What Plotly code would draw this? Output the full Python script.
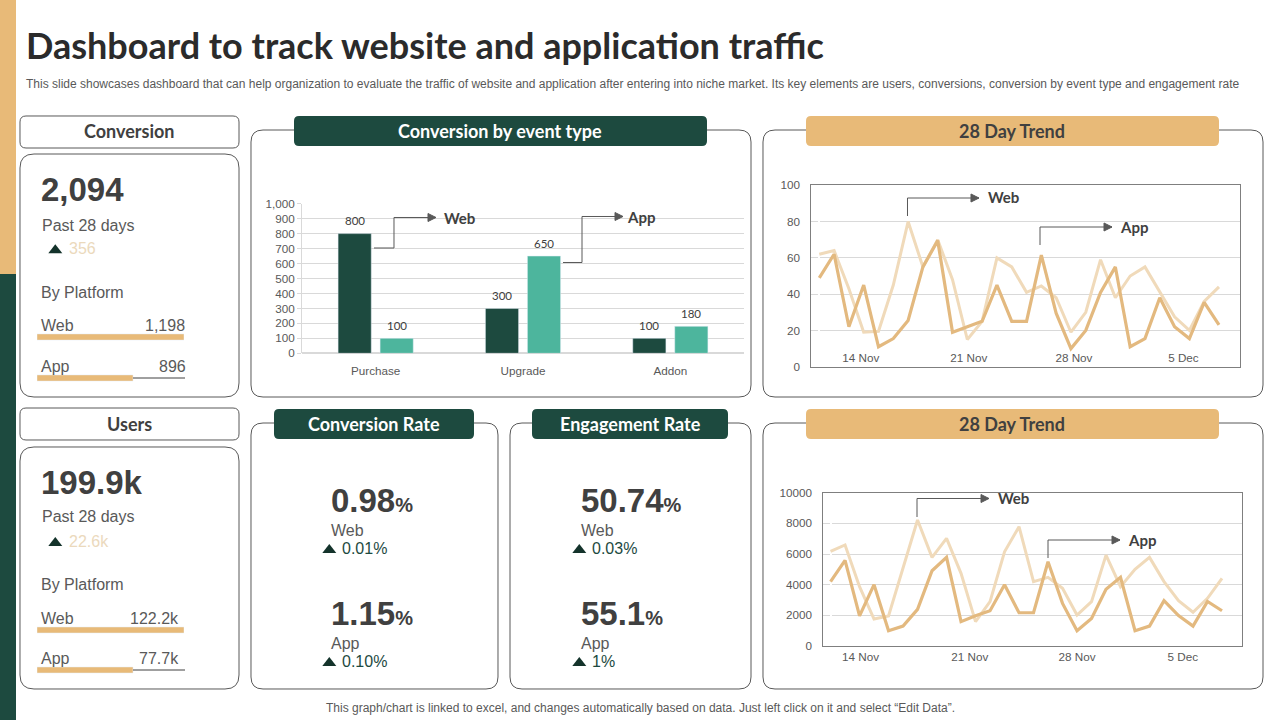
import plotly.graph_objects as go

# --- data ---
event_types = ["Purchase", "Upgrade", "Addon"]
event_web = [800, 300, 100]
event_app = [100, 650, 180]

day_no = list(range(28))
trend_labels = ["14 Nov", "21 Nov", "28 Nov", "5 Dec"]
trend1_label_pos = [2.8, 10.1, 17.2, 24.6]
trend2_label_pos = [2.07, 9.6, 17.0, 24.3]

conv_web = [62, 64, 43, 19, 19.5, 45, 80, 55, 70, 48, 15, 25, 60, 55,
            41, 44.5, 38, 19, 30, 59, 38, 50, 55, 41, 27.5, 20, 36, 44]
conv_app = [49, 62, 22, 45, 11, 15.5, 25.5, 55, 69.5, 19, 22, 25, 45, 25,
            25, 61.5, 29.5, 10, 20, 41, 55, 11, 15.5, 38, 22, 15.5, 35.5, 23]

users_web = [6170, 6590, 3870, 1760, 1960, 5170, 8220, 5780, 7020, 4740, 1590, 2890, 6150, 7780,
             4200, 4480, 3760, 2020, 2890, 5930, 3870, 5000, 5780, 4200, 2960, 2200, 3110, 4410]
users_app = [4200, 5590, 1960, 4000, 1000, 1300, 2390, 4910, 5780, 1590, 1980, 2300, 4000, 2170,
             2170, 5500, 2780, 1000, 1800, 3700, 4480, 1000, 1300, 2960, 1980, 1300, 2910, 2300]

platforms = ["Web", "App"]
conv_share = [100, 65.3]
users_share = [100, 65.3]

W, H = 1280, 720
DARK = "#1D4A3F"
TEAL = "#4DB59D"
TAN = "#E8BA78"
PALE = "#F0DABA"
LINE_TAN = "#E3B97F"
GREY = "#595959"
TEXT = "#404040"
BORDER = "#595959"
GRID = "#D9D9D9"
SANS = "Liberation Sans"
HEAD = "Lato"


def xdom(a, b):
    return [a / W, b / W]


def ydom(top, bottom):
    return [1 - bottom / H, 1 - top / H]


def pt(x, y):
    # pixel position on the slide -> paper coordinates
    return f"{x / W:.5f},{1 - y / H:.5f}"


def rrect(x0, y0, x1, y1, r, fill="white", line=BORDER):
    p = (f"M{pt(x0 + r, y0)} L{pt(x1 - r, y0)} Q{pt(x1, y0)} {pt(x1, y0 + r)} L{pt(x1, y1 - r)} "
         f"Q{pt(x1, y1)} {pt(x1 - r, y1)} L{pt(x0 + r, y1)} Q{pt(x0, y1)} {pt(x0, y1 - r)} "
         f"L{pt(x0, y0 + r)} Q{pt(x0, y0)} {pt(x0 + r, y0)} Z")
    return dict(type="path", path=p, xref="paper", yref="paper", fillcolor=fill,
                line=dict(color=line, width=1 if line != fill else 0), layer="below")


def box(x0, y0, x1, y1, fill):
    return dict(type="rect", xref="paper", yref="paper", x0=x0 / W, x1=x1 / W, y0=1 - y1 / H, y1=1 - y0 / H,
                fillcolor=fill, line_width=0, layer="below")


def rule(x0, x1, y):
    return dict(type="line", xref="paper", yref="paper", x0=x0 / W, x1=x1 / W, y0=1 - y / H, y1=1 - y / H,
                line=dict(color=TEXT, width=1))


def tri(x, y):
    # little up marker, x/y is the left bottom corner
    p = f"M{pt(x, y)} L{pt(x + 7, y - 9)} L{pt(x + 14, y)} Z"
    return dict(type="path", path=p, xref="paper", yref="paper", fillcolor="#14332B", line_width=0)


def elbow(pts):
    # arrow line with a small head on the last segment
    d = "M" + " L".join(pt(x, y) for x, y in pts)
    xe, ye = pts[-1]
    head = f"M{pt(xe - 8, ye - 4)} L{pt(xe, ye)} L{pt(xe - 8, ye + 4)} Z"
    return [dict(type="path", path=d, xref="paper", yref="paper", line=dict(color=GREY, width=1)),
            dict(type="path", path=head, xref="paper", yref="paper", fillcolor=GREY, line=dict(color=GREY, width=1))]


def txt(x, y, text, size, color=GREY, font=SANS, bold=False, anchor="left"):
    if bold:
        text = f"<b>{text}</b>"
    return dict(x=x / W, y=1 - y / H, xref="paper", yref="paper", text=text, showarrow=False,
                xanchor=anchor, yanchor="middle", borderpad=0, borderwidth=0,
                font=dict(family=font, size=size, color=color))


fig = go.Figure()

# conversion by event type
fig.add_trace(go.Bar(x=event_types, y=event_web, marker_color=DARK, name="Web", xaxis="x", yaxis="y"))
fig.add_trace(go.Bar(x=event_types, y=event_app, marker_color=TEAL, name="App", xaxis="x", yaxis="y"))

# 28 day trends
fig.add_trace(go.Scatter(x=day_no, y=conv_web, mode="lines", line=dict(color=PALE, width=3), xaxis="x2", yaxis="y2"))
fig.add_trace(go.Scatter(x=day_no, y=conv_app, mode="lines", line=dict(color=LINE_TAN, width=3.2), xaxis="x2", yaxis="y2"))
fig.add_trace(go.Scatter(x=day_no, y=users_web, mode="lines", line=dict(color=PALE, width=3), xaxis="x3", yaxis="y3"))
fig.add_trace(go.Scatter(x=day_no, y=users_app, mode="lines", line=dict(color=LINE_TAN, width=3.2), xaxis="x3", yaxis="y3"))

# platform share bars on the left cards
fig.add_trace(go.Bar(x=conv_share, y=platforms, orientation="h", width=0.15, marker_color=TAN, xaxis="x4", yaxis="y4"))
fig.add_trace(go.Bar(x=users_share, y=platforms, orientation="h", width=0.15, marker_color=TAN, xaxis="x5", yaxis="y5"))

tick_font = dict(family=SANS, size=11.7, color=GREY)
hidden = dict(visible=False, fixedrange=True)

shapes = [
    box(0, 0, 16, 274, TAN),
    box(0, 274, 16, 720, DARK),
    rrect(20, 116, 239, 148, 6),
    rrect(20, 154, 239, 397, 14),
    rrect(20, 408, 239, 440, 6),
    rrect(20, 447, 239, 689, 14),
    rrect(251, 130, 751, 397, 12),
    rrect(763, 130, 1263, 397, 12),
    rrect(251, 423, 498, 689, 12),
    rrect(510, 423, 751, 689, 12),
    rrect(763, 423, 1263, 689, 12),
    rrect(294, 116, 707, 146, 5, DARK, DARK),
    rrect(806, 116, 1219, 146, 5, TAN, TAN),
    rrect(274, 409, 474, 439, 5, DARK, DARK),
    rrect(532, 409, 728, 439, 5, DARK, DARK),
    rrect(806, 409, 1219, 439, 5, TAN, TAN),
    rule(133, 185, 378),
    rule(133, 185, 670),
    tri(48.3, 253.3),
    tri(48.3, 546),
]
shapes += elbow([(374, 248), (394, 248), (394, 217.5), (436, 217.5)])
shapes += elbow([(563, 262.5), (582, 262.5), (582, 216.5), (623, 216.5)])
shapes += elbow([(907.5, 216), (907.5, 198), (979, 198)])
shapes += elbow([(1040, 245), (1040, 227), (1112, 227)])
shapes += elbow([(917, 517), (917, 498.5), (989, 498.5)])
shapes += elbow([(1048, 558), (1048, 540), (1120, 540)])

notes = [
    txt(26, 45, "Dashboard to track website and application traffic", 36, "#2B2B2B", HEAD, True),
    txt(26, 84, "This slide showcases dashboard that can help organization to evaluate the traffic of website and application after entering into niche market. Its key elements are users, conversions, conversion by event type and engagement rate", 12),
    txt(640, 708, "This graph/chart is linked to excel, and changes automatically based on data. Just left click on it and select “Edit Data”.", 12, anchor="center"),
    # panel headers
    txt(129, 131, "Conversion", 18, TEXT, HEAD, True, "center"),
    txt(129, 424, "Users", 18, TEXT, HEAD, True, "center"),
    txt(500, 131, "Conversion by event type", 18, "white", HEAD, True, "center"),
    txt(1012, 131, "28 Day Trend", 18, TEXT, HEAD, True, "center"),
    txt(374, 424, "Conversion Rate", 18, "white", HEAD, True, "center"),
    txt(630, 424, "Engagement Rate", 18, "white", HEAD, True, "center"),
    txt(1012, 424, "28 Day Trend", 18, TEXT, HEAD, True, "center"),
    # conversion card
    txt(41, 190, "2,094", 33, TEXT, SANS, True),
    txt(42, 225, "Past 28 days", 16),
    txt(69, 248, "356", 16, "#EBD9BC"),
    txt(41, 292, "By Platform", 16),
    txt(41, 326, "Web", 16),
    txt(185, 326, "1,198", 16, anchor="right"),
    txt(41, 366, "App", 16),
    txt(186, 366, "896", 16, anchor="right"),
    # users card
    txt(41, 483, "199.9k", 33, TEXT, SANS, True),
    txt(42, 516, "Past 28 days", 16),
    txt(69, 541, "22.6k", 16, "#EBD9BC"),
    txt(41, 584, "By Platform", 16),
    txt(41, 618, "Web", 16),
    txt(179, 618, "122.2k", 16, anchor="right"),
    txt(41, 658, "App", 16),
    txt(179, 658, "77.7k", 16, anchor="right"),
    # arrow labels
    txt(444, 218, "Web", 15, TEXT, HEAD, True),
    txt(627, 217, "App", 15, TEXT, HEAD, True),
    txt(988, 197, "Web", 15, TEXT, HEAD, True),
    txt(1120, 227, "App", 15, TEXT, HEAD, True),
    txt(998, 498, "Web", 15, TEXT, HEAD, True),
    txt(1128, 540, "App", 15, TEXT, HEAD, True),
]

# rate blocks
rates = [
    (331, 500, "0.98", "Web", "0.01%"),
    (331, 613, "1.15", "App", "0.10%"),
    (581, 500, "50.74", "Web", "0.03%"),
    (581, 613, "55.1", "App", "1%"),
]
for x, y, val, plat, delta in rates:
    notes.append(txt(x, y, f'<b>{val}<span style="font-size:20px">%</span></b>', 33, TEXT))
    notes.append(txt(x, y + 30, plat, 16))
    notes.append(txt(x + 11, y + 48, delta, 16, DARK))
    shapes.append(tri(x - 8.7, y + 53))

# value labels sit a bit above the bars
for cat, v in zip(event_types, event_web):
    notes.append(dict(x=cat, y=v, xref="x", yref="y", text=str(v), showarrow=False, xshift=-21, yshift=13,
                      yanchor="middle", font=dict(family=HEAD, size=11.5, color=TEXT)))
for cat, v in zip(event_types, event_app):
    notes.append(dict(x=cat, y=v, xref="x", yref="y", text=str(v), showarrow=False, xshift=21, yshift=13,
                      yanchor="middle", font=dict(family=HEAD, size=11.5, color=TEXT)))

fig.update_layout(
    width=W, height=H, margin=dict(l=0, r=0, t=0, b=0, autoexpand=False),
    paper_bgcolor="white", plot_bgcolor="rgba(0,0,0,0)",
    showlegend=False, barmode="group", bargap=0.43, bargroupgap=0.21,
    hovermode=False, shapes=shapes, annotations=notes,
    xaxis=dict(domain=xdom(302, 744), anchor="y", type="category", showgrid=False, showline=False,
               ticks="", tickfont=tick_font, ticklabelstandoff=9, fixedrange=True),
    yaxis=dict(domain=ydom(203.7, 353.3), anchor="x", range=[0, 1000], dtick=100, tickformat=",",
               gridcolor=GRID, gridwidth=1, zeroline=True, zerolinecolor=GRID, showline=True, linecolor=GRID,
               ticks="outside", ticklen=4, tickcolor=GRID, tickfont=tick_font, fixedrange=True),
    xaxis2=dict(domain=xdom(811.3, 1240), anchor="y2", range=[-0.54, 28.42], tickmode="array",
                tickvals=trend1_label_pos, ticktext=trend_labels, ticks="", ticklabelstandoff=-20,
                showgrid=False, showline=True, mirror=True, linecolor="#7F7F7F", tickfont=tick_font, fixedrange=True),
    yaxis2=dict(domain=ydom(185.3, 366.7), anchor="x2", range=[0, 100], dtick=20, gridcolor=GRID,
                zeroline=False, showline=True, mirror=True, linecolor="#7F7F7F", tickfont=tick_font,
                ticks="outside", ticklen=8, tickcolor="rgba(0,0,0,0)", fixedrange=True),
    xaxis3=dict(domain=xdom(823.3, 1242.3), anchor="y3", range=[-0.5, 28.4], tickmode="array",
                tickvals=trend2_label_pos, ticktext=trend_labels, ticks="",
                showgrid=False, showline=True, mirror=True, linecolor="#7F7F7F", tickfont=tick_font, fixedrange=True),
    yaxis3=dict(domain=ydom(492.7, 646), anchor="x3", range=[0, 10000], dtick=2000, tickformat="d", gridcolor=GRID,
                zeroline=False, showline=True, mirror=True, linecolor="#7F7F7F", tickfont=tick_font,
                ticks="outside", ticklen=8, tickcolor="rgba(0,0,0,0)", fixedrange=True),
    xaxis4=dict(domain=xdom(37, 184), anchor="y4", range=[0, 100], **hidden),
    yaxis4=dict(domain=ydom(316.5, 398.5), anchor="x4", type="category", autorange="reversed", **hidden),
    xaxis5=dict(domain=xdom(37, 184), anchor="y5", range=[0, 100], **hidden),
    yaxis5=dict(domain=ydom(610, 690), anchor="x5", type="category", autorange="reversed", **hidden),
)

fig.write_html("out.html", config={"displayModeBar": False}, post_script="document.body.style.margin='0';")
